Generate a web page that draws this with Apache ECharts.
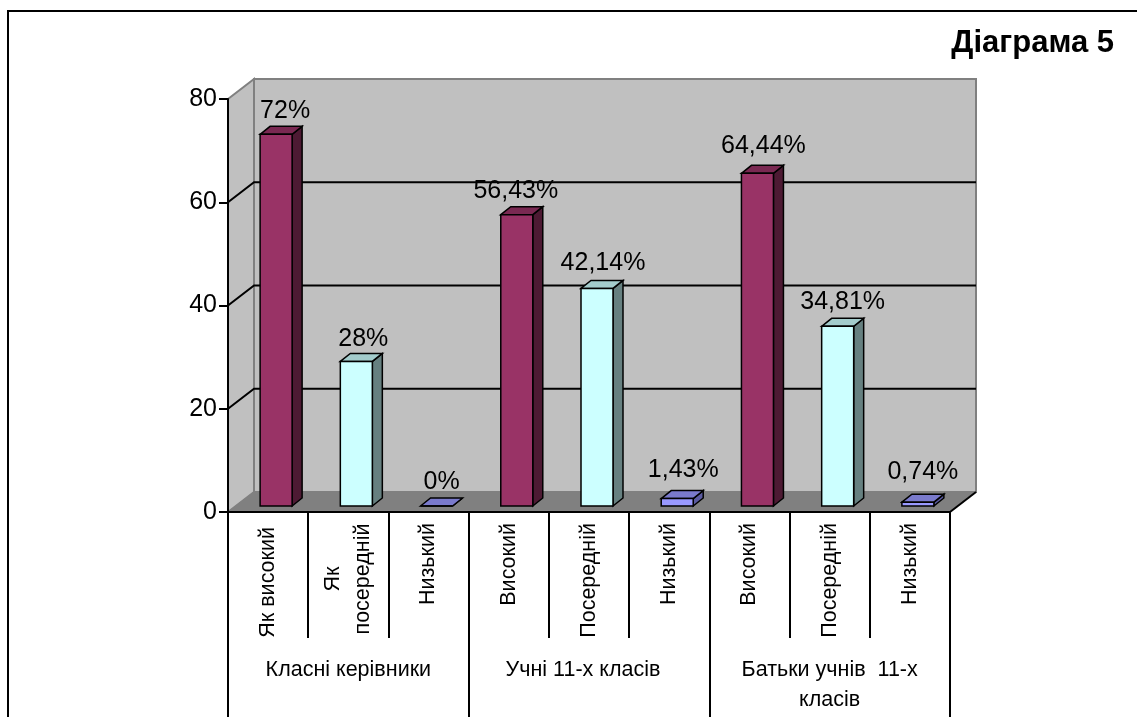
<!DOCTYPE html>
<html><head><meta charset="utf-8">
<style>html,body{margin:0;padding:0;background:#fff}#c{width:1137px;height:717px}</style>
<script src="https://cdn.jsdelivr.net/npm/echarts@6/dist/echarts.min.js"></script>
</head><body><div id="c"></div>
<script>
const title = 'Діаграма 5';
const categories = ['Як високий','Як\nпосередній','Низький','Високий','Посередній','Низький','Високий','Посередній','Низький'];
const groups = ['Класні керівники','Учні 11-х класів','Батьки учнів  11-х\nкласів'];
const values = [72,28,0,56.43,42.14,1.43,64.44,34.81,0.74];
const valueLabels = ['72%','28%','0%','56,43%','42,14%','1,43%','64,44%','34,81%','0,74%'];
const levels = ['high','mid','low','high','mid','low','high','mid','low'];
const yTicks = [0,20,40,60,80];

const palette = {
  high:{front:'#993366',top:'#7A2952',side:'#4D1A33'},
  mid:{front:'#CCFFFF',top:'#A3CCCC',side:'#668080'},
  low:{front:'#9999FF',top:'#7A7ACC',side:'#5A5AA0'}
};
const DX=26, DY=-20, BAR_DX=10, BAR_DY=-8, BAR_W=32;
const FF='"Liberation Sans",Arial,sans-serif';
const line={stroke:'#000',lineWidth:2,fill:null};
const labelNudge=[[4,3],[2,4],[0,3],[-6,3],[1,1],[1,-2],[1,-1],[0,2],[0,-4]];

function poly(points,fill,stroke,lw){
  return {type:'polygon',shape:{points},style:{fill,stroke,lineWidth:lw}};
}
function renderWalls(params,api){
  const s=api.size([1,0])[0];
  const x0=api.coord([0,0])[0]-s/2, x1=api.coord([categories.length-1,0])[0]+s/2;
  const yB=api.coord([0,0])[1], yT=api.coord([0,80])[1];
  const children=[
    poly([[x0,yT],[x0+DX,yT+DY],[x0+DX,yB+DY],[x0,yB]],'#C0C0C0','#808080',2),
    poly([[x0+DX,yT+DY],[x1+DX,yT+DY],[x1+DX,yB+DY],[x0+DX,yB+DY]],'#C0C0C0','#808080',2),
    poly([[x0,yB],[x0+DX,yB+DY],[x1+DX,yB+DY],[x1,yB]],'#808080','#808080',1),
    {type:'polyline',shape:{points:[[x1,yB],[x1+DX,yB+DY]]},style:line}
  ];
  yTicks.filter(v=>v>0&&v<80).forEach(v=>{
    const y=api.coord([0,v])[1];
    children.push({type:'polyline',shape:{points:[[x0,y],[x0+DX,y+DY],[x1+DX,y+DY]]},style:line});
  });
  return {type:'group',children};
}
function renderBar(params,api){
  const i=api.value(0), v=api.value(1);
  const c=api.coord([i,0]);
  const t=api.coord([i,v]);
  const off=(DX-BAR_DX)/2, offY=(DY-BAR_DY)/2;
  const l=c[0]+off-BAR_W/2, r=l+BAR_W, b=c[1]+offY, top=t[1]+offY;
  const col=palette[levels[i]];
  const st=1.5;
  const children=[];
  children.push(poly([[r,top],[r+BAR_DX,top+BAR_DY],[r+BAR_DX,b+BAR_DY],[r,b]],col.side,'#000',st));
  children.push(poly([[l,top],[l+BAR_DX,top+BAR_DY],[r+BAR_DX,top+BAR_DY],[r,top]],col.top,'#000',st));
  children.push(poly([[l,top],[r,top],[r,b],[l,b]],col.front,'#000',st));
  children.push({type:'text',style:{text:valueLabels[i],x:l+BAR_W/2+BAR_DX/2+labelNudge[i][0],y:top+BAR_DY-6+labelNudge[i][1],
    align:'center',verticalAlign:'bottom',fill:'#000',font:'25px '+FF}});
  return {type:'group',children};
}
const chart=echarts.init(document.getElementById('c'),null,{renderer:'canvas'});
chart.setOption({
  animation:false,
  backgroundColor:'#fff',
  title:{text:title,right:18,top:23,textStyle:{fontFamily:FF,fontWeight:'bold',fontSize:31,color:'#000'}},
  graphic:[{type:'polyline',z:10,shape:{points:[[8,717],[8,11],[1137,11]]},style:{stroke:'#000',lineWidth:2,fill:null}}],
  grid:{left:228,top:99,width:722,height:413,containLabel:false,outerBoundsMode:'none'},
  xAxis:[
    {type:'category',data:categories.map((c,i)=>{
        if(c.includes('\n')) return {value:c,textStyle:{align:'center',padding:[0,112,4,0]}};
        if(c==='Як високий') return {value:c,textStyle:{padding:[0,4,4,0]}};
        return c;
      }),
     position:'bottom',z:6,boundaryGap:true,
     axisLine:{show:true,lineStyle:{color:'#000',width:2}},
     axisTick:{show:true,length:126,interval:0,lineStyle:{color:'#000',width:2}},
     axisLabel:{interval:0,rotate:90,margin:11,fontFamily:FF,fontSize:21.5,color:'#000',lineHeight:30,padding:[0,0,4,0],hideOverlap:false},
     splitLine:{show:false}},
    {type:'category',data:groups.map((g,i)=>i===1?{value:g,textStyle:{padding:[0,12,0,0]}}:g),position:'bottom',z:6,boundaryGap:true,
     axisLine:{show:false},
     axisTick:{show:true,length:205,interval:0,lineStyle:{color:'#000',width:2}},
     axisLabel:{interval:0,margin:143,fontFamily:FF,fontSize:21.5,color:'#000',lineHeight:30,verticalAlign:'top',hideOverlap:false},
     splitLine:{show:false}}
  ],
  yAxis:{type:'value',min:0,max:80,interval:20,z:6,
    axisLine:{show:true,lineStyle:{color:'#000',width:2}},
    axisTick:{show:true,length:9,lineStyle:{color:'#000',width:2}},
    axisLabel:{margin:11,fontFamily:FF,fontSize:25,color:'#000'},
    splitLine:{show:false}},
  series:[
    {type:'custom',name:'walls',coordinateSystem:'cartesian2d',xAxisIndex:0,z:1,silent:true,clip:false,
     data:[[0,0]],encode:{x:0,y:1},renderItem:renderWalls},
    {type:'custom',name:'bars',coordinateSystem:'cartesian2d',xAxisIndex:0,z:3,clip:false,
     data:values.map((v,i)=>[i,v]),encode:{x:0,y:1},renderItem:renderBar}
  ]
});
</script></body></html>
